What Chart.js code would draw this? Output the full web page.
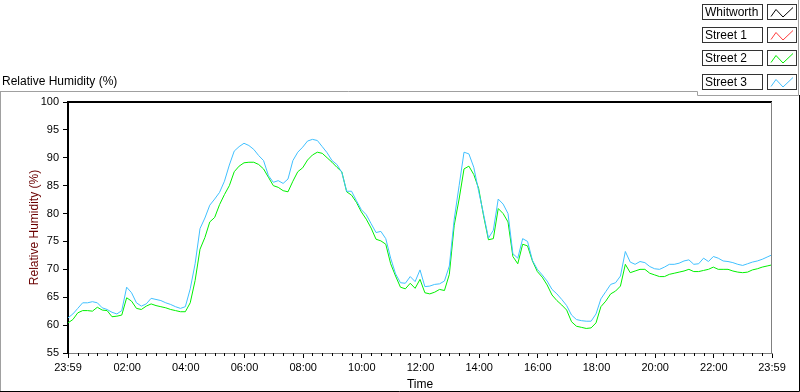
<!DOCTYPE html>
<html><head><meta charset="utf-8">
<script src="https://cdn.jsdelivr.net/npm/chart.js@4/dist/chart.umd.min.js"></script>
<style>html,body{margin:0;padding:0;background:#fff;overflow:hidden}</style>
</head><body>
<canvas id="c" width="800" height="392"></canvas>
<script>
// minutes elapsed since 23:59 (start of record)
const minutes = [0,10,20,30,40,50,60,70,80,90,100,110,120,130,140,150,160,170,180,190,200,210,220,230,240,250,260,270,280,290,300,310,320,330,340,350,360,370,380,390,400,410,420,430,440,450,460,470,480,490,500,510,520,530,540,550,560,570,580,590,600,610,620,630,640,650,660,670,680,690,700,710,720,730,740,750,760,770,780,790,800,810,820,830,840,850,860,870,880,890,900,910,920,930,940,950,960,970,980,990,1000,1010,1020,1030,1040,1050,1060,1070,1080,1090,1100,1110,1120,1130,1140,1150,1160,1170,1180,1190,1200,1210,1220,1230,1240,1250,1260,1270,1280,1290,1300,1310,1320,1330,1340,1350,1360,1370,1380,1390,1400,1410,1420,1430,1440];
const whitworth = [];
const street1 = [];
const street2 = [60.4,61.0,62.2,62.6,62.6,62.5,63.2,62.7,62.6,61.5,61.6,61.8,64.9,64.3,63.0,62.8,63.4,63.8,63.5,63.3,63.1,62.8,62.6,62.4,62.4,64.0,68.0,73.6,75.7,78.5,79.3,81.6,83.4,85.0,87.5,88.5,89.1,89.2,89.2,88.8,88.0,86.5,85.0,84.7,84.1,83.9,85.8,87.5,88.2,89.6,90.5,91.0,90.8,90.0,89.2,88.3,87.5,83.9,83.3,82.0,80.3,79.0,77.4,75.4,75.1,74.5,71.0,68.8,66.8,66.5,67.5,66.6,68.2,65.8,65.6,65.9,66.4,66.2,69.1,77.9,82.6,88.0,88.5,87.0,84.5,79.6,75.3,75.5,80.9,80.0,78.5,72.3,71.0,74.5,74.2,71.5,69.6,68.6,67.2,65.4,64.4,63.6,62.7,60.6,59.8,59.6,59.4,59.5,60.4,63.3,64.3,65.6,66.1,67.0,70.9,69.4,69.7,70.0,70.0,69.3,69.0,68.7,68.7,69.1,69.3,69.5,69.7,70.0,69.6,69.6,69.8,70.0,70.4,70.0,70.0,70.0,69.7,69.5,69.4,69.5,69.9,70.1,70.4,70.6,70.8];
const street3 = [61.3,62.0,63.0,64.0,64.0,64.2,64.0,63.1,62.8,62.3,62.0,62.6,66.8,65.8,64.0,63.4,63.8,64.8,64.6,64.4,64.0,63.7,63.3,63.0,63.3,66.5,71.0,77.3,79.2,81.5,82.6,83.8,85.8,88.7,91.2,92.0,92.6,92.2,91.5,90.4,89.5,86.8,85.6,85.9,85.4,86.2,89.5,91.0,91.9,93.0,93.3,93.1,92.0,90.9,89.5,88.8,87.4,84.0,84.0,82.3,80.7,79.8,78.2,76.6,76.8,75.5,72.0,69.2,67.6,67.5,68.7,67.8,69.9,66.9,67.0,67.3,67.4,67.9,70.6,79.0,85.0,91.0,90.7,88.3,84.0,79.9,75.6,77.0,82.6,81.7,80.0,72.8,72.0,75.5,75.0,71.6,70.0,69.0,67.9,66.4,65.6,64.6,63.5,61.8,61.0,60.8,60.7,60.7,62.0,64.7,66.0,67.3,67.6,68.8,73.2,71.3,70.9,71.4,71.2,70.5,70.1,70.0,70.4,70.9,70.9,71.1,71.5,71.7,70.9,71.0,72.0,71.4,72.3,72.0,71.5,71.4,71.2,70.9,70.7,71.0,71.3,71.5,71.8,72.2,72.6];
const seriesNames = ['Whitworth','Street 1','Street 2','Street 3'];
const seriesColors = ['#000000','#ff3c3c','#00f000','#40c0ff'];
const tickMinutes = [0,121,241,361,481,601,721,841,961,1081,1201,1321,1440];
const tickLabels = ['23:59','02:00','04:00','06:00','08:00','10:00','12:00','14:00','16:00','18:00','20:00','22:00','23:59'];
const yTicks = [55,60,65,70,75,80,85,90,95,100];
const minorStep = 20;

const FONT = "'Liberation Sans', Arial, sans-serif";
const seriesData = [whitworth, street1, street2, street3];
const datasets = seriesData.map((arr, k) => ({
  label: seriesNames[k],
  data: arr.map((v, i) => ({x: minutes[i], y: v})),
  borderColor: seriesColors[k],
  backgroundColor: seriesColors[k],
  borderWidth: 1,
  pointRadius: 0,
  tension: 0,
  fill: false,
  order: 3 - k
}));

const framePlugin = {
  id: 'frame',
  afterDraw(chart) {
    const ctx = chart.ctx;
    const a = chart.chartArea;
    const xs = chart.scales.x;
    ctx.save();
    // top border of plot (black) and right (gray)
    ctx.fillStyle = '#000';
    ctx.fillRect(a.left - 1, a.top - 1, a.right - a.left + 1, 2);
    ctx.fillStyle = '#808080';
    ctx.fillRect(a.right - 1, a.top, 1, a.bottom - a.top + 1);
    // minor ticks on the x axis
    ctx.strokeStyle = '#000';
    ctx.lineWidth = 1;
    ctx.beginPath();
    for (let m = minorStep; m < 1440; m += minorStep) {
      if (tickMinutes.some(t => Math.abs(t - m) < 3)) continue;
      const px = Math.round(xs.getPixelForValue(m)) + 0.5;
      ctx.moveTo(px, a.bottom);
      ctx.lineTo(px, a.bottom + 3);
    }
    ctx.stroke();
    // outer frame
    ctx.strokeStyle = '#a0a0a0';
    ctx.beginPath();
    ctx.moveTo(0, 91.5); ctx.lineTo(697.5, 91.5); ctx.lineTo(697.5, 95.5); ctx.lineTo(798.5, 95.5); ctx.lineTo(798.5, 0);
    ctx.moveTo(0.5, 91.5); ctx.lineTo(0.5, 392);
    ctx.stroke();
    ctx.strokeStyle = '#000';
    ctx.beginPath();
    ctx.moveTo(0, 391.5); ctx.lineTo(799.5, 391.5); ctx.lineTo(799.5, 95);
    ctx.stroke();
    // top-left caption
    ctx.fillStyle = '#000';
    ctx.font = '12px ' + FONT;
    ctx.textBaseline = 'middle';
    ctx.textAlign = 'left';
    ctx.fillText('Relative Humidity (%)', 2, 82);
    // legend
    chart.data.datasets.forEach((ds, i) => {
      const y = Math.round(4 + i * 23.2);
      ctx.fillStyle = '#fff';
      ctx.fillRect(702, y, 61, 16);
      ctx.fillRect(767, y, 30, 16);
      ctx.strokeStyle = '#333';
      ctx.lineWidth = 1;
      ctx.strokeRect(702.5, y + 0.5, 60, 15);
      ctx.strokeRect(767.5, y + 0.5, 29, 15);
      ctx.fillStyle = '#000';
      ctx.fillText(ds.label, 705, y + 8.5);
      ctx.strokeStyle = ds.borderColor;
      ctx.beginPath();
      ctx.moveTo(771, y + 12.5);
      ctx.lineTo(776, y + 5.5);
      ctx.lineTo(783, y + 13);
      ctx.lineTo(793, y + 3.5);
      ctx.stroke();
    });
    ctx.restore();
  }
};

new Chart(document.getElementById('c'), {
  type: 'line',
  data: { datasets },
  plugins: [framePlugin],
  options: {
    responsive: false,
    animation: false,
    devicePixelRatio: 1,
    layout: { padding: { left: 0, top: 102, right: 28, bottom: 0 } },
    plugins: { legend: { display: false }, tooltip: { enabled: false }, title: { display: false } },
    scales: {
      x: {
        type: 'linear', min: 0, max: 1440,
        afterFit(s) { s.height = 39; },
        afterBuildTicks(s) { s.ticks = tickMinutes.map(v => ({ value: v })); },
        ticks: { autoSkip: false, maxRotation: 0, padding: 3, color: '#000',
                 font: { family: FONT, size: 11 }, callback: (v, i) => tickLabels[i] },
        grid: { drawOnChartArea: false, drawTicks: true, tickLength: 5, tickColor: '#000' },
        border: { display: true, color: '#808080', width: 1 },
        title: { display: true, text: 'Time', color: '#000', font: { family: FONT, size: 12 }, padding: { top: 0, bottom: 0 } }
      },
      y: {
        type: 'linear', min: 55, max: 100,
        afterFit(s) { s.width = 68; },
        afterBuildTicks(s) { s.ticks = yTicks.map(v => ({ value: v })); },
        ticks: { padding: 4, color: '#000', font: { family: FONT, size: 11 } },
        grid: { drawOnChartArea: false, drawTicks: true, tickLength: 5, tickColor: '#000' },
        border: { display: true, color: '#000', width: 2 },
        title: { display: true, text: 'Relative Humidity (%)', color: '#6a0000', font: { family: FONT, size: 12 }, padding: { top: 27, bottom: 0 } }
      }
    }
  }
});
</script>
</body></html>
